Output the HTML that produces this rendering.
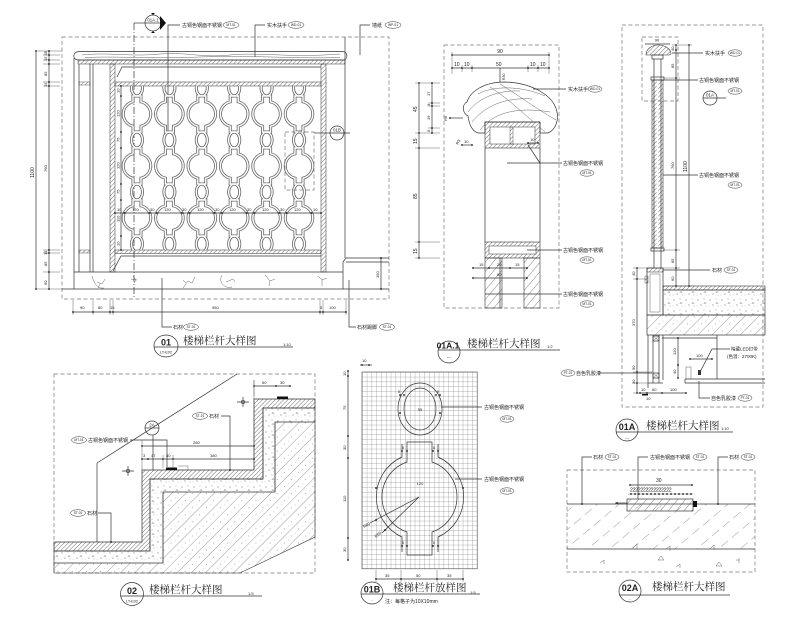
<!DOCTYPE html>
<html><head><meta charset="utf-8"><style>
html,body{margin:0;padding:0;background:#fff;width:800px;height:632px;overflow:hidden}
svg{display:block}
text{font-family:"Liberation Sans","Noto Sans CJK SC",sans-serif;fill:#222}
.t{font-family:"Liberation Serif","Noto Serif CJK SC",serif;font-size:10.5px;fill:#222}
.l{stroke:#333;stroke-width:.7;fill:none}
.d{stroke:#777;stroke-width:.7;fill:none;stroke-dasharray:4 2.5}
.th{stroke:#555;stroke-width:.45;fill:none}
.s5{font-size:5px}
.s4{font-size:4px}
.b{fill:#fff;stroke:#333;stroke-width:.5}
.bt{font-size:3.3px;text-anchor:middle}
.m{text-anchor:middle}
</style></head><body>
<svg width="800" height="632" viewBox="0 0 800 632" xmlns="http://www.w3.org/2000/svg">
<defs>
<pattern id="h" width="3" height="3" patternUnits="userSpaceOnUse" patternTransform="rotate(45)"><line x1="0" y1="0" x2="0" y2="3" stroke="#333" stroke-width="0.7"/></pattern>
<pattern id="hl" width="6" height="6" patternUnits="userSpaceOnUse" patternTransform="rotate(40)"><line x1="0" y1="0" x2="0" y2="6" stroke="#333" stroke-width="0.6"/></pattern>
<pattern id="hw" width="10" height="10" patternUnits="userSpaceOnUse" patternTransform="rotate(45)"><line x1="0" y1="0" x2="0" y2="10" stroke="#444" stroke-width="0.55"/><circle cx="5" cy="3" r=".4" fill="#444"/><circle cx="6" cy="8" r=".3" fill="#444"/></pattern>
<pattern id="hs" width="14" height="14" patternUnits="userSpaceOnUse" patternTransform="rotate(50)"><line x1="0" y1="0" x2="0" y2="9" stroke="#555" stroke-width="0.6"/></pattern>
<pattern id="sp" width="12" height="11" patternUnits="userSpaceOnUse"><circle cx="2" cy="3" r=".5" fill="#444"/><circle cx="8" cy="2" r=".4" fill="#444"/><circle cx="5" cy="8" r=".5" fill="#444"/><circle cx="10" cy="9" r=".35" fill="#444"/><path d="M9,5 l1.2,1.6 h-2.4z" fill="none" stroke="#666" stroke-width=".3"/><circle cx="1" cy="9" r=".3" fill="#444"/></pattern>
<pattern id="grid" x="362" y="372" width="4.8" height="4.8" patternUnits="userSpaceOnUse"><path d="M0,0 H4.8 M0,0 V4.8" stroke="#555" stroke-width=".45" fill="none"/></pattern>
<circle id="dt" r="0.9" fill="#111"/>
<path id="bu" d="M-4,0 H4 V5.8 A12.5,12.5 0 0 1 4,30.2 V36 H-4 V30.2 A12.5,12.5 0 0 1 -4,5.8 Z"/>
<ellipse id="bo" rx="5.5" ry="8"/>
<g id="col"><use href="#bo" y="88"/><use href="#bu" y="96"/><use href="#bo" y="140"/><use href="#bu" y="148"/><use href="#bo" y="192"/><use href="#bu" y="200"/><use href="#bo" y="244"/></g>
<clipPath id="c01"><rect x="115" y="86" width="206" height="164"/></clipPath>
<clipPath id="cw"><path d="M478,133 L485,133 L485,122 L540,122 L540,133 L548,133 C555,130 559,121 557,112 C554,96 533,83 505,82 C483,82 470,92 467,102 C462,104 462,113 468,116 C469,124 472,131 478,133 Z"/></clipPath>
</defs>

<!-- ============ PANEL 01 ============ -->
<rect class="d" x="62" y="37" width="327" height="262"/>
<circle cx="153" cy="23" r="8" class="l" fill="#fff"/>
<line class="l" x1="145" y1="23" x2="161" y2="23"/>
<text x="153" y="21.5" font-size="4.3" class="m">01A.1</text>
<polygon points="160,16 166,23 160,30" fill="#111"/>
<polygon points="151,13 155,13 153,15" fill="#111"/>
<polygon points="151,33 155,33 153,31" fill="#111"/>
<line class="l" x1="145" y1="23" x2="134" y2="23"/>
<line class="l" x1="134" y1="23" x2="134" y2="299" stroke-dasharray="7 2 1 2"/>
<polyline class="l" points="168,132 168,25 180,25"/>
<text x="182" y="27" class="s5">古铜色钢面不锈钢</text>
<ellipse class="b" cx="231" cy="25" rx="8" ry="3.3"/><text x="231" y="26.2" class="bt">MT-01</text>
<polyline class="l" points="255,57 255,25 265,25"/>
<text x="267" y="27" class="s5">实木扶手</text>
<ellipse class="b" cx="296" cy="25" rx="8" ry="3.3"/><text x="296" y="26.2" class="bt">WD-01</text>
<polyline class="l" points="360,55 360,25 370,25"/>
<text x="372" y="27" class="s5">墙纸</text>
<ellipse class="b" cx="393" cy="25" rx="8" ry="3.3"/><text x="393" y="26.2" class="bt">WP-01</text>
<path class="l" d="M79,51.5 L343,51.5 C348,52 348,59 344,60 L79,60 C72,60 72,52 79,51.5 Z"/>
<path class="th" d="M82,55 C110,52 130,57 160,54 C190,52 200,58 230,55 C260,52 290,58 340,54"/>
<path class="th" d="M85,57.5 C120,56 150,59 200,57 C250,55 300,59 340,57.5"/>
<rect x="78" y="60" width="267" height="4" fill="url(#h)" stroke="#333" stroke-width=".5"/>
<line class="l" x1="74" y1="58" x2="74" y2="289"/>
<line class="l" x1="79" y1="64" x2="79" y2="272"/>
<line class="l" x1="90" y1="64" x2="90" y2="272"/>
<line class="l" x1="93" y1="64" x2="93" y2="272"/>
<rect x="79" y="82" width="11" height="3" fill="url(#h)" stroke="#333" stroke-width=".4"/>
<rect x="79" y="250" width="11" height="3" fill="url(#h)" stroke="#333" stroke-width=".4"/>
<rect x="110" y="64" width="5" height="208" fill="url(#h)" stroke="#333" stroke-width=".5"/>
<rect x="321" y="64" width="5" height="208" fill="url(#h)" stroke="#333" stroke-width=".5"/>
<rect x="115" y="82" width="206" height="4" fill="url(#h)" stroke="#333" stroke-width=".5"/>
<rect x="115" y="250" width="206" height="3.5" fill="url(#h)" stroke="#333" stroke-width=".5"/>
<polyline class="l" points="117,77 122,67 321,67"/>
<polyline class="l" points="113,271 121,256 321,256"/>
<g clip-path="url(#c01)" fill="none">
<g stroke="#666" stroke-width="3"><use href="#col" x="137"/><use href="#col" x="169.4"/><use href="#col" x="201.8"/><use href="#col" x="234.2"/><use href="#col" x="266.6"/><use href="#col" x="299"/></g>
<g stroke="#fff" stroke-width="1.4"><use href="#col" x="137"/><use href="#col" x="169.4"/><use href="#col" x="201.8"/><use href="#col" x="234.2"/><use href="#col" x="266.6"/><use href="#col" x="299"/></g>
</g>
<line class="l" x1="115" y1="213" x2="321" y2="213"/>
<g>
<use href="#dt" x="115" y="213"/><use href="#dt" x="124.5" y="213"/><use href="#dt" x="149.5" y="213"/><use href="#dt" x="156.9" y="213"/><use href="#dt" x="181.9" y="213"/><use href="#dt" x="189.3" y="213"/><use href="#dt" x="214.3" y="213"/><use href="#dt" x="221.7" y="213"/><use href="#dt" x="246.7" y="213"/><use href="#dt" x="254.1" y="213"/><use href="#dt" x="279.1" y="213"/><use href="#dt" x="286.5" y="213"/><use href="#dt" x="311.5" y="213"/><use href="#dt" x="321" y="213"/>
</g>
<g class="s4">
<text x="117" y="211">10</text><text x="132" y="211">120</text><text x="150" y="211">30</text><text x="164" y="211">120</text><text x="182" y="211">30</text><text x="197" y="211">120</text><text x="215" y="211">30</text><text x="229" y="211">120</text><text x="247" y="211">30</text><text x="262" y="211">120</text><text x="280" y="211">30</text><text x="294" y="211">120</text><text x="313" y="211">10</text>
</g>
<line class="l" x1="121" y1="86" x2="121" y2="250"/>
<use href="#dt" x="121" y="86"/><use href="#dt" x="121" y="96"/><use href="#dt" x="121" y="132"/><use href="#dt" x="121" y="148"/><use href="#dt" x="121" y="184"/><use href="#dt" x="121" y="200"/><use href="#dt" x="121" y="236"/><use href="#dt" x="121" y="250"/>
<g class="s4">
<text transform="translate(119.5,93) rotate(-90)">10</text><text transform="translate(119.5,117) rotate(-90)">120</text><text transform="translate(119.5,142) rotate(-90)">75</text><text transform="translate(119.5,169) rotate(-90)">120</text><text transform="translate(119.5,194) rotate(-90)">75</text><text transform="translate(119.5,222) rotate(-90)">110</text><text transform="translate(119.5,246) rotate(-90)">10</text>
</g>
<line class="l" x1="74" y1="272" x2="343" y2="272"/>
<line class="l" x1="62" y1="289" x2="389" y2="289"/>
<g class="th" stroke-width=".6">
<path d="M92,276 C94,284 98,289 104,288 M97,282 l5,2 l3,-5 M100,284 l-2,4"/>
<path d="M133,276 l3,4 l-2,3 M131,279 l6,1"/>
<path d="M183,288 l5,-7 l4,2 l3,-6 M186,283 l-3,-3"/>
<path d="M222,275 C218,282 224,289 232,287 M226,282 l7,-3 l2,3"/>
<path d="M265,275 l5,6 l5,-2 M270,281 l-1,5"/>
<path d="M318,276 l4,4 l5,-2 M322,280 l0,6"/>
</g>
<polyline class="l" points="343,289 343,262 346,258 389,258"/>
<line class="l" x1="346" y1="262" x2="389" y2="262"/>
<line class="l" x1="345" y1="37" x2="345" y2="258"/>
<line class="l" x1="381" y1="258" x2="381" y2="289"/>
<use href="#dt" x="381" y="258"/><use href="#dt" x="381" y="289"/>
<text transform="translate(379,278) rotate(-90)" class="s4">150</text>
<line class="l" x1="36" y1="51" x2="36" y2="289"/>
<use href="#dt" x="36" y="51"/><use href="#dt" x="36" y="289"/>
<text transform="translate(34,178) rotate(-90)" class="s5">1100</text>
<line class="l" x1="49" y1="51" x2="49" y2="289"/>
<g class="th"><path d="M36,51 H62 M43,55 H60 M43,60 H60 M43,64 H60 M43,82 H60 M43,86 H60 M43,250 H60 M43,253 H60 M43,272 H60 M36,289 H62"/></g>
<use href="#dt" x="49" y="51"/><use href="#dt" x="49" y="55"/><use href="#dt" x="49" y="60"/><use href="#dt" x="49" y="64"/><use href="#dt" x="49" y="82"/><use href="#dt" x="49" y="86"/><use href="#dt" x="49" y="250"/><use href="#dt" x="49" y="253"/><use href="#dt" x="49" y="272"/><use href="#dt" x="49" y="289"/>
<g class="s4">
<text transform="translate(47,61) rotate(-90)">15 45</text><text transform="translate(47,76) rotate(-90)">85</text><text transform="translate(47,87) rotate(-90)">15</text><text transform="translate(47,172) rotate(-90)">760</text><text transform="translate(47,255) rotate(-90)">15</text><text transform="translate(47,266) rotate(-90)">85</text><text transform="translate(47,285) rotate(-90)">60</text>
</g>
<rect class="d" x="285" y="132" width="29" height="58"/>
<line class="l" x1="314" y1="133" x2="330" y2="133"/>
<circle cx="337" cy="133" r="7" class="l" fill="#fff"/>
<line class="l" x1="330" y1="133" x2="350" y2="133"/>
<text x="337" y="131.5" font-size="4.3" class="m">01B</text>
<line class="l" x1="73" y1="312" x2="346" y2="312"/>
<g class="th"><path d="M73,300 V315 M93,300 V315 M110,300 V315 M113,300 V315 M320,300 V315 M323,300 V315 M346,300 V315"/></g>
<use href="#dt" x="73" y="312"/><use href="#dt" x="93" y="312"/><use href="#dt" x="110" y="312"/><use href="#dt" x="113" y="312"/><use href="#dt" x="320" y="312"/><use href="#dt" x="323" y="312"/><use href="#dt" x="346" y="312"/>
<g class="s4"><text x="80" y="309">90</text><text x="98" y="309">80</text><text x="110" y="309">15</text><text x="212" y="309">950</text><text x="320" y="309">5</text><text x="329" y="309">100</text></g>
<polyline class="l" points="162,278 162,327 172,327"/>
<text x="173" y="329" class="s5">石材</text>
<ellipse class="b" cx="191" cy="327" rx="7.5" ry="3.3"/><text x="191" y="328.2" class="bt">ST-01</text>
<polyline class="l" points="349,280 349,327 356,327"/>
<text x="357" y="329" class="s5">石材踢脚</text>
<ellipse class="b" cx="387" cy="327" rx="7.5" ry="3.3"/><text x="387" y="328.2" class="bt">ST-01</text>
<ellipse cx="166" cy="346" rx="12" ry="11" class="l" fill="#fff"/>
<line class="l" x1="154" y1="347" x2="293" y2="347"/>
<text x="166" y="345.5" font-size="9" font-weight="bold" class="m">01</text>
<text x="166" y="353.5" font-size="3.8" class="m">LT-E02</text>
<text x="183" y="344" class="t">楼梯栏杆大样图</text>
<text x="283" y="346" class="s4">1:10</text>

<!-- ============ PANEL 01A.1 ============ -->
<rect class="d" x="444" y="45" width="115" height="263"/>
<line class="l" x1="452" y1="55" x2="549" y2="55"/>
<use href="#dt" x="452" y="55"/><use href="#dt" x="549" y="55"/>
<text x="500" y="53" class="s5 m">90</text>
<line class="l" x1="452" y1="68" x2="549" y2="68"/>
<g class="th"><path d="M452,52 V74 M549,52 V74 M462,65 V72 M472,65 V72 M528,65 V72 M538,65 V72"/></g>
<use href="#dt" x="452" y="68"/><use href="#dt" x="462" y="68"/><use href="#dt" x="472" y="68"/><use href="#dt" x="528" y="68"/><use href="#dt" x="538" y="68"/><use href="#dt" x="549" y="68"/>
<g class="s5"><text x="454" y="66">10</text><text x="464" y="66">10</text><text x="496" y="66">50</text><text x="530" y="66">10</text><text x="540" y="66">10</text></g>
<line class="l" x1="500" y1="68" x2="500" y2="82"/>
<text transform="translate(505,80) rotate(-90)" font-size="3.5">R30</text>
<path class="l" stroke-width=".9" d="M478,133 L485,133 L485,122 L540,122 L540,133 L548,133 C555,130 559,121 557,112 C554,96 533,83 505,82 C483,82 470,92 467,102 C462,104 462,113 468,116 C469,124 472,131 478,133 Z"/>
<g clip-path="url(#cw)" class="th" stroke-width=".6">
<path d="M468,112 C478,98 498,90 520,91"/>
<path d="M472,122 C485,106 505,97 532,99"/>
<path d="M480,130 C492,114 515,106 550,112"/>
<path d="M478,94 C492,86 520,85 545,96"/>
<path d="M500,84 C515,93 532,106 556,120"/>
<path d="M490,87 C506,97 522,112 545,132"/>
</g>
<rect x="485" y="122" width="55" height="26" fill="url(#h)" stroke="#333" stroke-width=".6"/>
<rect x="490" y="127" width="45" height="17" fill="#fff" stroke="#333" stroke-width=".5"/>
<rect x="510" y="127" width="3" height="17" fill="url(#h)" stroke="#333" stroke-width=".4"/>
<line class="l" x1="485" y1="148" x2="485" y2="242"/>
<line class="l" x1="540" y1="148" x2="540" y2="242"/>
<rect x="485" y="242" width="55" height="16" fill="url(#h)" stroke="#333" stroke-width=".6"/>
<rect x="489" y="246" width="47" height="8" fill="#fff" stroke="#333" stroke-width=".5"/>
<rect x="485" y="258" width="17" height="50" fill="url(#hl)" stroke="#333" stroke-width=".6"/>
<rect x="524" y="258" width="16" height="50" fill="url(#hl)" stroke="#333" stroke-width=".6"/>
<line class="l" x1="500" y1="258" x2="500" y2="308"/>
<line class="l" x1="419" y1="83" x2="419" y2="258"/>
<use href="#dt" x="419" y="83"/><use href="#dt" x="419" y="133"/><use href="#dt" x="419" y="148"/><use href="#dt" x="419" y="242"/><use href="#dt" x="419" y="258"/>
<g class="s5"><text transform="translate(417,112) rotate(-90)">45</text><text transform="translate(417,144) rotate(-90)">15</text><text transform="translate(417,199) rotate(-90)">85</text><text transform="translate(417,254) rotate(-90)">15</text></g>
<line class="l" x1="432" y1="83" x2="432" y2="133"/>
<g class="th"><path d="M415,83 H440 M428,103 H440 M428,106 H440 M428,128 H440 M415,133 H440 M415,148 H440 M415,242 H440 M415,258 H440"/></g>
<use href="#dt" x="432" y="83"/><use href="#dt" x="432" y="103"/><use href="#dt" x="432" y="106"/><use href="#dt" x="432" y="128"/><use href="#dt" x="432" y="133"/>
<g class="s4"><text transform="translate(430,96) rotate(-90)">17</text><text transform="translate(430,106) rotate(-90)">3</text><text transform="translate(430,120) rotate(-90)">19</text><text transform="translate(430,132) rotate(-90)">6</text></g>
<line class="l" x1="450" y1="118" x2="463" y2="118"/><use href="#dt" x="450" y="118"/>
<text transform="translate(447,121) rotate(-90)" font-size="4">R6</text>
<text transform="translate(458,145) rotate(-60)" font-size="4">R3</text>
<line class="l" x1="462" y1="145" x2="472" y2="145"/><use href="#dt" x="462" y="145"/><use href="#dt" x="472" y="145"/>
<text x="464" y="143" class="s4">10</text>
<line class="l" x1="528" y1="143" x2="538" y2="143"/><use href="#dt" x="528" y="143"/><use href="#dt" x="538" y="143"/>
<text x="530" y="141" class="s4">10</text>
<line class="l" x1="473" y1="268" x2="527" y2="268"/>
<use href="#dt" x="473" y="268"/><use href="#dt" x="489" y="268"/><use href="#dt" x="510" y="268"/><use href="#dt" x="527" y="268"/>
<g class="s4"><text x="479" y="266">15</text><text x="497" y="266">20</text><text x="515" y="266">15</text></g>
<line class="l" x1="473" y1="278" x2="527" y2="278"/><use href="#dt" x="473" y="278"/><use href="#dt" x="527" y="278"/>
<text x="497" y="276" class="s4">50</text>
<line class="l" x1="533" y1="89" x2="566" y2="89"/>
<text x="568" y="91" class="s5">实木扶手</text>
<ellipse class="b" cx="595" cy="89" rx="7" ry="3.2"/><text x="595" y="90.2" class="bt">WD-01</text>
<line class="l" x1="507" y1="163" x2="562" y2="163"/>
<line class="l" x1="528" y1="145" x2="540" y2="163"/>
<text x="563" y="165" class="s5">古铜色钢面不锈钢</text>
<ellipse class="b" cx="587" cy="173" rx="7" ry="3.2"/><text x="587" y="174.2" class="bt">MT-01</text>
<line class="l" x1="527" y1="250" x2="562" y2="250"/>
<text x="563" y="252" class="s5">古铜色钢面不锈钢</text>
<ellipse class="b" cx="587" cy="260" rx="7" ry="3.2"/><text x="587" y="261.2" class="bt">MT-01</text>
<line class="l" x1="485" y1="294" x2="562" y2="294"/>
<text x="563" y="296" class="s5">古铜色钢面不锈钢</text>
<ellipse class="b" cx="587" cy="304" rx="7" ry="3.2"/><text x="587" y="305.2" class="bt">MT-01</text>
<circle cx="449" cy="352" r="11" class="l" fill="#fff"/>
<line class="l" x1="438" y1="350" x2="560" y2="350"/>
<text x="448" y="348.5" font-size="8.5" font-weight="bold" class="m">01A.1</text>
<text x="449" y="358" font-size="4" class="m">—</text>
<text x="467" y="347" class="t">楼梯栏杆大样图</text>
<text x="547" y="348" class="s4">1:2</text>

<!-- ============ PANEL 01A ============ -->
<rect class="d" x="622" y="25" width="141" height="382"/>
<rect class="d" x="642" y="37" width="36" height="64"/>
<text x="657" y="41.5" class="s4 m">90</text>
<line class="l" x1="645" y1="44" x2="670" y2="44"/>
<path d="M646,55 C646,48 653,45 658,45 C665,45 671,49 671,54 L669,55 Z" fill="url(#h)" stroke="#333" stroke-width=".6"/>
<rect x="652" y="55" width="11" height="4" class="l" fill="#fff"/>
<line class="l" x1="654" y1="59" x2="654" y2="268"/>
<line class="l" x1="661" y1="59" x2="661" y2="268"/>
<rect x="652" y="80" width="11" height="168" fill="url(#h)" stroke="#333" stroke-width=".6"/>
<line x1="657.5" y1="80" x2="657.5" y2="248" stroke="#fff" stroke-width="1.5"/>
<rect x="651" y="77" width="13" height="3" class="l" fill="#fff"/>
<rect x="651" y="248" width="13" height="3" class="l" fill="#fff"/>
<rect x="647" y="268" width="16" height="47" class="l" fill="#fff"/>
<rect x="647" y="268" width="16" height="4" fill="url(#h)" stroke="#333" stroke-width=".5"/>
<rect x="650" y="274" width="10" height="38" class="th"/>
<rect x="645" y="276" width="3" height="7" fill="url(#h)" stroke="#333" stroke-width=".4"/>
<rect x="663" y="286" width="102" height="4" fill="url(#h)" stroke="#333" stroke-width=".6"/>
<rect x="663" y="290" width="102" height="25" fill="url(#sp)" stroke="#333" stroke-width=".6"/>
<rect x="647" y="315" width="118" height="20" fill="url(#hw)" stroke="#333" stroke-width=".7"/>
<line class="l" x1="648" y1="335" x2="648" y2="388"/>
<line class="l" x1="653" y1="335" x2="653" y2="383"/>
<line class="l" x1="659" y1="335" x2="659" y2="383"/>
<rect x="653" y="336" width="6" height="5" class="l"/><path class="th" d="M653,336 l6,5 M659,336 l-6,5 M653,373 l6,5 M659,373 l-6,5"/>
<rect x="653" y="373" width="6" height="5" class="l"/>
<line class="l" x1="648" y1="383" x2="663" y2="383"/>
<line class="l" x1="663" y1="335" x2="663" y2="380"/>
<line class="l" x1="662" y1="338" x2="717" y2="338"/>
<line class="l" x1="717" y1="335" x2="717" y2="379"/>
<line class="l" x1="685" y1="379" x2="765" y2="379"/>
<line class="l" x1="685" y1="383" x2="765" y2="383"/>
<line class="l" x1="685" y1="379" x2="685" y2="383"/>
<rect x="686" y="367" width="5" height="12" class="th"/>
<rect x="698" y="370" width="3" height="5" fill="#333"/>
<line class="l" x1="676" y1="45" x2="676" y2="286"/>
<use href="#dt" x="676" y="45"/><use href="#dt" x="676" y="50"/><use href="#dt" x="676" y="78"/><use href="#dt" x="676" y="250"/><use href="#dt" x="676" y="268"/><use href="#dt" x="676" y="286"/>
<g class="s4"><text transform="translate(674,51) rotate(-90)">40</text><text transform="translate(674,68) rotate(-90)">85</text><text transform="translate(674,169) rotate(-90)">760</text><text transform="translate(674,263) rotate(-90)">85</text><text transform="translate(674,281) rotate(-90)">60</text></g>
<line class="l" x1="689" y1="45" x2="689" y2="286"/>
<use href="#dt" x="689" y="45"/><use href="#dt" x="689" y="286"/>
<text transform="translate(687,172) rotate(-90)" class="s5">1100</text>
<g class="th"><path d="M672,45 H692 M663,78 H680 M663,250 H680 M663,268 H680 M663,286 H692"/></g>
<line class="l" x1="637" y1="268" x2="637" y2="393"/>
<use href="#dt" x="637" y="268"/><use href="#dt" x="637" y="279"/><use href="#dt" x="637" y="372"/><use href="#dt" x="637" y="383"/><use href="#dt" x="637" y="393"/>
<g class="s4"><text transform="translate(635,276) rotate(-90)">40</text><text transform="translate(635,326) rotate(-90)">370</text><text transform="translate(635,370) rotate(-90)">90</text><text transform="translate(635,384) rotate(-90)">30</text></g>
<g class="th"><path d="M633,268 H647 M633,279 H647 M633,372 H653 M633,383 H648 M633,393 H648"/></g>
<line class="l" x1="640" y1="393" x2="686" y2="393"/>
<use href="#dt" x="640" y="393"/><use href="#dt" x="647" y="393"/><use href="#dt" x="662" y="393"/><use href="#dt" x="686" y="393"/>
<g class="s4"><text x="641" y="391">10</text><text x="652" y="391">60</text><text x="670" y="391">100</text><text x="646" y="400">10</text></g>
<rect x="642" y="394" width="6" height="1.5" fill="#111"/>
<line class="l" x1="678" y1="338" x2="678" y2="378"/>
<use href="#dt" x="678" y="338"/><use href="#dt" x="678" y="365"/><use href="#dt" x="678" y="378"/>
<text transform="translate(676,355) rotate(-90)" class="s4">120</text>
<text transform="translate(676,374) rotate(-90)" class="s4">40</text>
<line class="l" x1="690" y1="359" x2="712" y2="359"/><use href="#dt" x="690" y="359"/><use href="#dt" x="712" y="359"/>
<text x="696" y="357" class="s4">100</text>
<line class="l" x1="672" y1="53" x2="703" y2="53"/>
<text x="705" y="55" class="s5">实木扶手</text>
<ellipse class="b" cx="735" cy="53" rx="7" ry="3.2"/><text x="735" y="54.2" class="bt">WD-01</text>
<line class="l" x1="663" y1="80" x2="698" y2="80"/>
<text x="699" y="82" class="s5">古铜色钢面不锈钢</text>
<ellipse class="b" cx="735" cy="91" rx="7" ry="3.2"/><text x="735" y="92.2" class="bt">MT-01</text>
<line class="l" x1="663" y1="175" x2="698" y2="175"/>
<text x="699" y="177" class="s5">古铜色钢面不锈钢</text>
<ellipse class="b" cx="735" cy="185" rx="7" ry="3.2"/><text x="735" y="186.2" class="bt">MT-01</text>
<line class="l" x1="663" y1="270" x2="710" y2="270"/>
<text x="712" y="272" class="s5">石材</text>
<ellipse class="b" cx="731" cy="270" rx="7" ry="3.2"/><text x="731" y="271.2" class="bt">ST-01</text>
<polyline class="l" points="700,372 712,349 730,349"/>
<text x="731" y="350.5" font-size="4.5">暗藏LED灯带</text>
<text x="727" y="358" font-size="4.5">(色温：2700K)</text>
<polyline class="l" points="699,381 699,398 710,398"/>
<text x="711" y="400" class="s5">自色乳胶漆</text>
<ellipse class="b" cx="745" cy="398" rx="7" ry="3.2"/><text x="745" y="399.2" class="bt">PT-01</text>
<ellipse class="b" cx="568" cy="373" rx="7" ry="3.2"/><text x="568" y="374.2" class="bt">PT-01</text>
<text x="576" y="375" class="s5">自色乳胶漆</text>
<line class="l" x1="598" y1="373" x2="652" y2="373"/>
<circle cx="710" cy="98" r="7" class="l" fill="#fff"/>
<line class="l" x1="703" y1="98" x2="726" y2="98"/>
<text x="710" y="96.5" font-size="4.5" class="m">01A</text>
<circle cx="627" cy="430" r="11" class="l" fill="#fff"/>
<line class="l" x1="616" y1="432" x2="733" y2="432"/>
<text x="627" y="430" font-size="9" font-weight="bold" class="m">01A</text>
<text x="627" y="439" font-size="4" class="m">—</text>
<text x="646" y="429" class="t">楼梯栏杆大样图</text>
<text x="721" y="430" class="s4">1:10</text>

<!-- ============ PANEL 02 ============ -->
<rect class="d" x="54" y="374" width="261" height="199"/>
<polygon points="54,563 163,563 163,492 275,492 275,422 315,422 315,537 240,573 54,573" fill="url(#hw)" stroke="#333" stroke-width=".6"/>
<polygon points="54,551 150,551 150,479 263,479 263,408 315,408 315,422 275,422 275,492 163,492 163,563 54,563" fill="url(#sp)" stroke="#333" stroke-width=".6"/>
<polygon points="54,542 142,542 142,470 254,470 254,399 315,399 315,408 263,408 263,479 150,479 150,551 54,551" fill="url(#h)" stroke="#333" stroke-width=".7"/>
<line class="l" x1="97" y1="463" x2="237" y2="374"/>
<line class="l" x1="97" y1="463" x2="97" y2="542"/>
<rect x="166" y="467.5" width="11" height="2.5" fill="#111"/>
<rect x="277" y="396.5" width="11" height="2.5" fill="#111"/>
<path class="th" d="M178,466 h10 v4"/>
<g class="l" stroke-width=".5"><circle cx="243" cy="402" r="1.8"/><path d="M237,402 H249 M243,397 V407"/><circle cx="128" cy="471" r="1.8"/><path d="M122,471 H134 M128,466 V476"/></g>
<line class="l" x1="254" y1="386" x2="290" y2="386"/>
<use href="#dt" x="254" y="386"/><use href="#dt" x="276" y="386"/><use href="#dt" x="290" y="386"/>
<line class="th" x1="254" y1="380" x2="254" y2="396"/>
<g class="s4"><text x="262" y="384">50</text><text x="280" y="384">30</text></g>
<line class="l" x1="142" y1="446" x2="254" y2="446"/>
<use href="#dt" x="142" y="446"/><use href="#dt" x="254" y="446"/>
<text x="193" y="444" class="s4">260</text>
<line class="l" x1="142" y1="459" x2="254" y2="459"/>
<use href="#dt" x="142" y="459"/><use href="#dt" x="148" y="459"/><use href="#dt" x="163" y="459"/><use href="#dt" x="173" y="459"/><use href="#dt" x="254" y="459"/>
<g class="s4"><text x="143" y="457">3</text><text x="151" y="457">47</text><text x="166" y="457">30</text><text x="210" y="457">180</text></g>
<g class="th"><path d="M142,440 V470 M254,380 V470 M163,455 V468 M173,455 V468"/></g>
<ellipse class="b" cx="200" cy="416" rx="7.5" ry="3.3"/><text x="200" y="417.2" class="bt">ST-01</text>
<text x="209" y="418" class="s5">石材</text>
<polyline class="l" points="221,416 230,416 230,470"/>
<use href="#dt" x="230" y="470"/>
<ellipse class="b" cx="79" cy="440" rx="7.5" ry="3.3"/><text x="79" y="441.2" class="bt">MT-01</text>
<text x="88" y="442" class="s5">古铜色钢面不锈钢</text>
<polyline class="l" points="130,440 167,440 167,467"/>
<ellipse class="b" cx="78" cy="513" rx="7.5" ry="3.3"/><text x="78" y="514.2" class="bt">ST-01</text>
<text x="87" y="515" class="s5">石材</text>
<polyline class="l" points="98,513 111,513 111,542"/>
<use href="#dt" x="111" y="542"/>
<circle cx="152" cy="428" r="7" class="l" fill="#fff"/>
<line class="l" x1="145" y1="428" x2="159" y2="428"/>
<text x="152" y="426.5" font-size="4.5" class="m">2A</text>
<line class="l" x1="153" y1="435" x2="153" y2="470"/>
<circle cx="132" cy="594" r="11.5" class="l" fill="#fff"/>
<line class="l" x1="121" y1="596" x2="262" y2="596"/>
<text x="132" y="594" font-size="9" font-weight="bold" class="m">02</text>
<text x="132" y="602.5" font-size="3.8" class="m">LT-E02</text>
<text x="149" y="593" class="t">楼梯栏杆大样图</text>
<text x="248" y="595" class="s4">1:5</text>

<!-- ============ PANEL 01B ============ -->
<rect x="362" y="372" width="115.2" height="196.8" fill="url(#grid)" stroke="#444" stroke-width=".6"/>
<g class="l" stroke-width=".8">
<ellipse cx="420" cy="409" rx="22" ry="26"/>
<ellipse cx="420" cy="409" rx="16" ry="21"/>
<path d="M402,444 V457 A44,44 0 0 0 402,537 V552"/>
<path d="M438,444 V457 A44,44 0 0 1 438,537 V552"/>
<path d="M407,442 H432 V462 A37,37 0 0 1 432,532 V555 H407 V532 A37,37 0 0 1 407,462 Z"/>
</g>
<line class="l" x1="419" y1="497" x2="370" y2="523"/>
<line class="l" x1="419" y1="497" x2="382" y2="533"/>
<use href="#dt" x="376" y="520"/><use href="#dt" x="385" y="530"/>
<text transform="translate(364,528) rotate(-28)" font-size="4">R60</text>
<text transform="translate(376,538) rotate(-40)" font-size="4">R50</text>
<text x="420" y="485" class="s4 m">120</text>
<text x="420" y="411" class="s4 m">55</text>
<g><use href="#dt" x="400" y="395"/><use href="#dt" x="404" y="395"/><use href="#dt" x="436" y="395"/><use href="#dt" x="440" y="395"/><use href="#dt" x="400" y="413"/><use href="#dt" x="440" y="413"/><use href="#dt" x="402" y="451"/><use href="#dt" x="407" y="451"/><use href="#dt" x="433" y="451"/><use href="#dt" x="438" y="451"/><use href="#dt" x="376" y="488"/><use href="#dt" x="463" y="488"/><use href="#dt" x="402" y="546"/><use href="#dt" x="407" y="546"/><use href="#dt" x="433" y="546"/><use href="#dt" x="438" y="546"/></g>
<g font-size="3.5"><text x="398" y="393">8</text><text x="437" y="393">8</text><text x="402" y="449">8</text><text x="433" y="449">8</text><text x="402" y="544">8</text><text x="433" y="544">8</text></g>
<line class="l" x1="348" y1="371" x2="348" y2="560"/>
<use href="#dt" x="348" y="371"/><use href="#dt" x="348" y="376"/><use href="#dt" x="348" y="436"/><use href="#dt" x="348" y="458"/><use href="#dt" x="348" y="538"/><use href="#dt" x="348" y="560"/>
<g class="s4"><text transform="translate(346,376) rotate(-90)">10</text><text transform="translate(346,410) rotate(-90)">75</text><text transform="translate(346,450) rotate(-90)">30</text><text transform="translate(346,502) rotate(-90)">110</text><text transform="translate(346,552) rotate(-90)">30</text></g>
<line class="l" x1="360" y1="365" x2="372" y2="365"/><use href="#dt" x="362" y="365"/><use href="#dt" x="369" y="365"/>
<text x="362" y="362" class="s4">10</text>
<line class="l" x1="376" y1="579" x2="463" y2="579"/>
<g class="th"><path d="M376,570 V582 M401,570 V582 M437,570 V582 M463,570 V582"/></g>
<use href="#dt" x="376" y="579"/><use href="#dt" x="401" y="579"/><use href="#dt" x="437" y="579"/><use href="#dt" x="463" y="579"/>
<g class="s4"><text x="385" y="577">35</text><text x="416" y="577">50</text><text x="447" y="577">35</text></g>
<line class="l" x1="441" y1="407" x2="482" y2="407"/>
<text x="484" y="409" class="s5">古铜色钢面不锈钢</text>
<ellipse class="b" cx="507" cy="419" rx="7" ry="3.2"/><text x="507" y="420.2" class="bt">MT-01</text>
<line class="l" x1="455" y1="479" x2="482" y2="479"/>
<text x="484" y="481" class="s5">古铜色钢面不锈钢</text>
<ellipse class="b" cx="507" cy="491" rx="7" ry="3.2"/><text x="507" y="492.2" class="bt">MT-01</text>
<circle cx="372" cy="593" r="11" class="l" fill="#fff"/>
<line class="l" x1="361" y1="594" x2="480" y2="594"/>
<text x="372" y="592.5" font-size="9" font-weight="bold" class="m">01B</text>
<text x="372" y="601" font-size="4" class="m">-</text>
<text x="393" y="591" class="t">楼梯栏杆放样图</text>
<text x="470" y="594" class="s4">1:5</text>
<text x="385" y="603" font-size="5" font-family="Liberation Serif, Noto Serif CJK SC, serif">注：每格子为10X10mm</text>

<!-- ============ PANEL 02A ============ -->
<rect class="d" x="567" y="470" width="188" height="102"/>
<rect x="567" y="504" width="188" height="45" fill="url(#hs)"/>
<line class="l" x1="567" y1="504" x2="755" y2="504"/>
<line class="l" x1="567" y1="549" x2="755" y2="549"/>
<g class="th" stroke-width=".5"><path d="M633,548 l4,-4 l0,5 M666,549 l4,-3 l0,5 M710,549 l4,-4 l0,5 M600,563 l4,-3 l0,4 M676,567 l4,-3 l0,4"/><path d="M658,560 l3,-4 l3,4z M716,566 l3,-4 l3,4z"/><path d="M736,560 l3,0 M739,558 v5"/></g>
<rect x="627" y="499" width="66" height="12" fill="url(#hl)" stroke="#333" stroke-width=".7"/>
<line class="l" x1="630" y1="485" x2="692" y2="485"/>
<use href="#dt" x="630" y="485"/><use href="#dt" x="692" y="485"/>
<text x="656" y="482" class="s5">30</text>
<text x="630" y="491.5" font-size="5.2" letter-spacing="-.3">2222222222222222</text>
<line class="th" x1="628" y1="494" x2="693" y2="494"/>
<g><use href="#dt" x="631" y="494"/><use href="#dt" x="635" y="494"/><use href="#dt" x="639" y="494"/><use href="#dt" x="643" y="494"/><use href="#dt" x="647" y="494"/><use href="#dt" x="651" y="494"/><use href="#dt" x="655" y="494"/><use href="#dt" x="659" y="494"/><use href="#dt" x="663" y="494"/><use href="#dt" x="667" y="494"/><use href="#dt" x="671" y="494"/><use href="#dt" x="675" y="494"/><use href="#dt" x="679" y="494"/><use href="#dt" x="683" y="494"/><use href="#dt" x="687" y="494"/><use href="#dt" x="691" y="494"/></g>
<line class="l" x1="615" y1="503" x2="627" y2="503"/><use href="#dt" x="617" y="503"/>
<rect x="693" y="501" width="4" height="6" fill="#111"/>
<polyline class="l" points="592,457 582,457 582,504"/><use href="#dt" x="582" y="504"/>
<text x="593" y="459" class="s5">石材</text>
<ellipse class="b" cx="612" cy="457" rx="7" ry="3.2"/><text x="612" y="458.2" class="bt">ST-01</text>
<polyline class="l" points="648,457 638,457 638,499"/>
<text x="650" y="459" class="s5">古铜色钢面不锈钢</text>
<ellipse class="b" cx="700" cy="457" rx="7" ry="3.2"/><text x="700" y="458.2" class="bt">ST-01</text>
<polyline class="l" points="728,457 718,457 718,504"/><use href="#dt" x="718" y="504"/>
<text x="729" y="459" class="s5">石材</text>
<ellipse class="b" cx="748" cy="457" rx="7" ry="3.2"/><text x="748" y="458.2" class="bt">ST-01</text>
<circle cx="630" cy="591" r="11" class="l" fill="#fff"/>
<line class="l" x1="619" y1="595" x2="730" y2="595"/>
<text x="630" y="591" font-size="9" font-weight="bold" class="m">02A</text>
<text x="630" y="600" font-size="4" class="m">-</text>
<text x="652" y="590" class="t">楼梯栏杆大样图</text>
</svg>
</body></html>
